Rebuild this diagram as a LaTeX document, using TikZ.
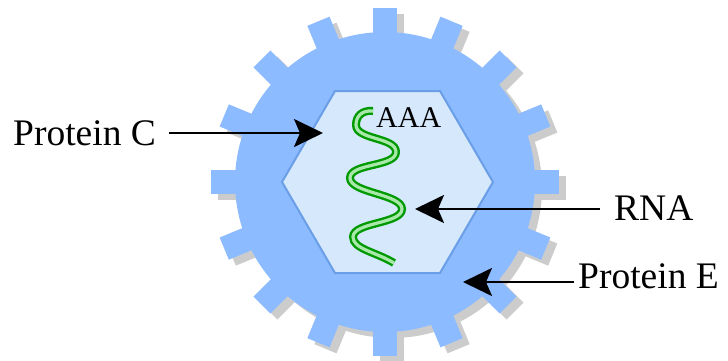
\documentclass[tikz,border=0pt]{standalone}
\usepackage{fontspec}
\setmainfont{Liberation Serif}
\usetikzlibrary{arrows.meta}

\definecolor{envelope}{HTML}{8DBBFF}
\definecolor{envshadow}{HTML}{CCCCCC}
\definecolor{capsidfill}{HTML}{D5E8FC}
\definecolor{capsidline}{HTML}{6A9EE6}
\definecolor{rnadark}{HTML}{009A00}
\definecolor{rnalight}{HTML}{A8E8A8}

\tikzset{
  lbl/.style={inner sep=0pt, font=\fontsize{37.5}{40}\selectfont},
  polya/.style={inner sep=0pt, font=\fontsize{30}{32}\selectfont},
  pointer/.style={line width=2.4pt, -{Stealth[length=29pt, width=28pt, inset=6pt]}},
  capsid/.style={fill=capsidfill, draw=capsidline, line width=2pt, line join=miter},
}

% the spiked envelope, drawn around the origin
\newcommand{\envelopeshape}{%
  \fill (0,0) circle (150);
  \foreach \a in {0,22.5,...,337.5}
    \fill[rotate=\a] (-12,-135) rectangle (12,-174);
}

\begin{document}
\begin{tikzpicture}[x=1pt,y=-1pt]
\useasboundingbox (0,0) rectangle (728,360);

% envelope shadow and envelope
\begin{scope}[shift={(392,188)}, envshadow]
  \envelopeshape
\end{scope}
\begin{scope}[shift={(385,182)}, envelope]
  \envelopeshape
\end{scope}

% hexagonal capsid
\draw[capsid] (282,182) -- (335,91) -- (440,91) -- (493,182) -- (440,273) -- (335,273) -- cycle;

% RNA strand as a two-tone tube
\def\rnapath{(373,111) .. controls (362,110) and (356,116) .. (356,125)
  .. controls (356,140) and (396,137) .. (396,152)
  .. controls (396,167) and (350,163) .. (350,178)
  .. controls (350,193) and (402,194) .. (402,209)
  .. controls (402,224) and (353,222) .. (353,237)
  .. controls (353,249) and (376,252) .. (394,263)}
\draw[rnadark, line width=8pt] \rnapath;
\draw[rnalight, line width=3.2pt] \rnapath;

\node[polya, anchor=base west] (aaa) at (376,127) {AAA};

% labels
\node[lbl, anchor=base west] (pc) at (13,145) {Protein C};
\node[lbl, anchor=base west] (rna) at (614,220) {RNA};
\node[lbl, anchor=base west] (pe) at (578,288) {Protein E};

% pointer ends
\coordinate (pcTail) at (169,133);
\coordinate (pcTip)  at (323,133);
\coordinate (rnaTail) at (600,209);
\coordinate (rnaTip)  at (415,209);
\coordinate (peTail) at (574,282);
\coordinate (peTip)  at (463,282);

\draw[pointer] (pcTail) -- (pcTip);
\draw[pointer] (rnaTail) -- (rnaTip);
\draw[pointer] (peTail) -- (peTip);
\end{tikzpicture}
\end{document}
